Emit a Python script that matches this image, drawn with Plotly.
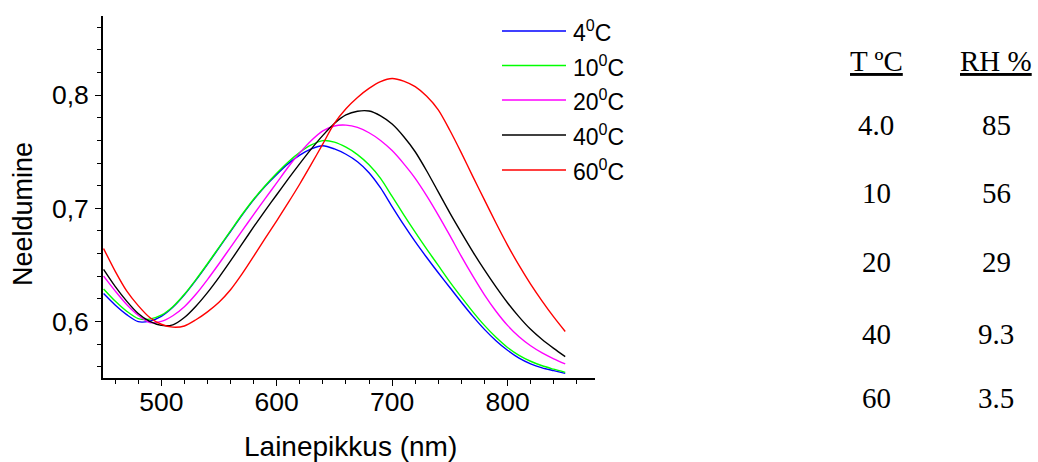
import plotly.graph_objects as go

# Wavelength grid (nm) and absorbance spectra at each temperature
wavelength = list(range(450, 851, 10))

abs_4c = [0.6246, 0.6145, 0.6060, 0.5998, 0.6003, 0.6045, 0.6125, 0.6235, 0.6365, 0.6505,
          0.6650, 0.6795, 0.6940, 0.7075, 0.7195, 0.7300, 0.7395, 0.7470, 0.7525, 0.7553,
          0.7525, 0.7478, 0.7412, 0.7315, 0.7180, 0.7015, 0.6855, 0.6705, 0.6565, 0.6430,
          0.6300, 0.6170, 0.6045, 0.5930, 0.5830, 0.5745, 0.5675, 0.5625, 0.5590, 0.5565,
          0.5541]
abs_10c = [0.6287, 0.6180, 0.6090, 0.6025, 0.6020, 0.6055, 0.6130, 0.6240, 0.6370, 0.6510,
           0.6655, 0.6800, 0.6945, 0.7080, 0.7200, 0.7310, 0.7410, 0.7495, 0.7560, 0.7598,
           0.7585, 0.7540, 0.7475, 0.7385, 0.7265, 0.7105, 0.6945, 0.6790, 0.6640, 0.6495,
           0.6350, 0.6215, 0.6085, 0.5965, 0.5860, 0.5770, 0.5700, 0.5648, 0.5608, 0.5578,
           0.5550]
abs_20c = [0.6400, 0.6270, 0.6150, 0.6055, 0.5990, 0.6000, 0.6050, 0.6130, 0.6240, 0.6370,
           0.6510, 0.6655, 0.6800, 0.6945, 0.7085, 0.7225, 0.7365, 0.7490, 0.7600, 0.7685,
           0.7728, 0.7735, 0.7715, 0.7668, 0.7600, 0.7510, 0.7395, 0.7265, 0.7110, 0.6940,
           0.6760, 0.6575, 0.6400, 0.6235, 0.6090, 0.5965, 0.5865, 0.5785, 0.5722, 0.5670,
           0.5625]
abs_40c = [0.6460, 0.6310, 0.6180, 0.6070, 0.6000, 0.5965, 0.5970, 0.6035, 0.6135, 0.6255,
           0.6390, 0.6535, 0.6685, 0.6835, 0.6980, 0.7120, 0.7260, 0.7395, 0.7525, 0.7645,
           0.7750, 0.7825, 0.7858, 0.7860, 0.7818, 0.7745, 0.7635, 0.7500, 0.7330, 0.7145,
           0.6960, 0.6785, 0.6615, 0.6455, 0.6305, 0.6165, 0.6040, 0.5930, 0.5840, 0.5762,
           0.5689]
abs_60c = [0.6645, 0.6445, 0.6270, 0.6140, 0.6035, 0.5975, 0.5950, 0.5960, 0.6015, 0.6085,
           0.6170, 0.6280, 0.6420, 0.6575, 0.6735, 0.6890, 0.7050, 0.7215, 0.7390, 0.7570,
           0.7750, 0.7880, 0.7980, 0.8060, 0.8120, 0.8148, 0.8125, 0.8075, 0.7990, 0.7870,
           0.7690, 0.7490, 0.7280, 0.7075, 0.6870, 0.6675, 0.6495, 0.6330, 0.6180, 0.6040,
           0.5911]

series_names = ["4<sup>0</sup>C", "10<sup>0</sup>C", "20<sup>0</sup>C", "40<sup>0</sup>C", "60<sup>0</sup>C"]
series_values = [abs_4c, abs_10c, abs_20c, abs_40c, abs_60c]
series_colors = ["#0000FF", "#00FF00", "#FF00FF", "#000000", "#FF0000"]

# Side table: temperature vs relative humidity
table_headers = ["T ºC", "RH %"]
table_temp = ["4.0", "10", "20", "40", "60"]
table_rh = ["85", "56", "29", "9.3", "3.5"]

W, H = 1038, 462
L, R, T, B = 103, 443, 16, 84
PW, PH = W - L - R, H - T - B


def px(x):
    return (x - L) / PW


def py(y):
    return 1 - (y - T) / PH


SANS = "Liberation Sans, Arial, sans-serif"
SERIF = "Liberation Serif, Times New Roman, serif"

fig = go.Figure()
for name, vals, col in zip(series_names, series_values, series_colors):
    fig.add_trace(go.Scatter(x=wavelength, y=vals, mode="lines", name=name,
                             line=dict(color=col, width=1.4, shape="spline", smoothing=0.8),
                             showlegend=False))

axis_common = dict(showgrid=False, zeroline=False, showline=True, linecolor="black",
                   linewidth=1.8, ticks="outside", tickcolor="black", tickwidth=1.3,
                   ticklen=6, tickfont=dict(family=SANS, size=26.5, color="black"),
                   mirror=False)

fig.update_xaxes(range=[449.5, 875.8], dtick=100, tick0=0,
                 minor=dict(dtick=20, ticks="outside", ticklen=4, tickcolor="black", tickwidth=1.3),
                 ticklabelstandoff=-7, **axis_common)
fig.update_yaxes(range=[0.55, 0.87], dtick=0.1, tick0=0, tickformat=".1f",
                 minor=dict(dtick=0.02, ticks="outside", ticklen=4, tickcolor="black", tickwidth=1.3),
                 ticklabelstandoff=1, **axis_common)

annotations = []
shapes = []

# Axis titles
annotations.append(dict(text="Lainepikkus (nm)", x=px(350), y=py(446), xref="paper", yref="paper",
                        showarrow=False, xanchor="center", yanchor="middle",
                        font=dict(family=SANS, size=28, color="black")))
annotations.append(dict(text="Neeldumine", x=px(23), y=py(214), xref="paper", yref="paper",
                        showarrow=False, xanchor="center", yanchor="middle", textangle=-90,
                        font=dict(family=SANS, size=27, color="black")))

# Legend: line sample plus label per series
legend_rows = [31, 65.5, 100, 135, 170]
for name, col, ry in zip(series_names, series_colors, legend_rows):
    shapes.append(dict(type="line", xref="paper", yref="paper",
                       x0=px(502), x1=px(566), y0=py(ry), y1=py(ry),
                       line=dict(color=col, width=1.4)))
    annotations.append(dict(text=name, x=px(571), y=py(ry), xref="paper", yref="paper",
                            showarrow=False, xanchor="left", yanchor="middle",
                            font=dict(family=SANS, size=23, color="black")))

# Table of temperature and relative humidity
col_x = [876, 996]
for cx, head in zip(col_x, table_headers):
    annotations.append(dict(text="<u>" + head + "</u>", x=px(cx), y=py(61), xref="paper", yref="paper",
                            showarrow=False, xanchor="center", yanchor="middle",
                            font=dict(family=SERIF, size=29, color="black")))
row_y = [125, 193, 262, 334, 398]
for ry, t, rh in zip(row_y, table_temp, table_rh):
    for cx, txt in zip(col_x, [t, rh]):
        annotations.append(dict(text=txt, x=px(cx), y=py(ry), xref="paper", yref="paper",
                                showarrow=False, xanchor="center", yanchor="middle",
                                font=dict(family=SERIF, size=29, color="black")))

fig.update_layout(width=W, height=H, autosize=False,
                  margin=dict(l=L, r=R, t=T, b=B, pad=0),
                  paper_bgcolor="white", plot_bgcolor="white",
                  separators=", ", showlegend=False,
                  annotations=annotations, shapes=shapes)

fig.write_html("out.html")
